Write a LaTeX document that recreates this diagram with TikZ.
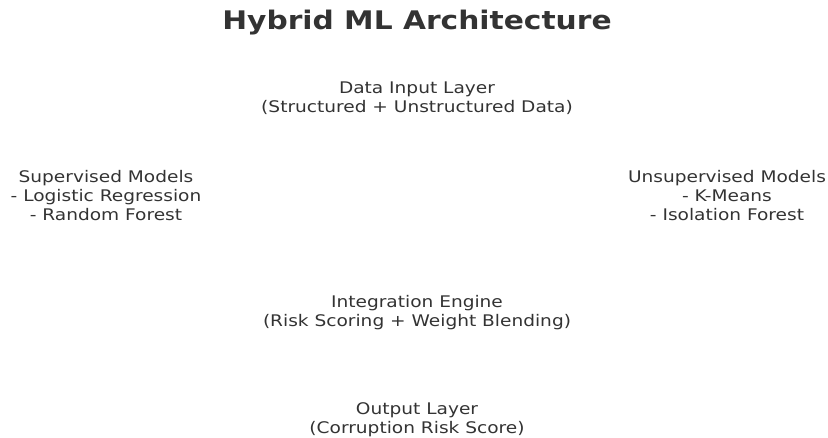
\documentclass[tikz,border=0pt]{standalone}
\usepackage{fontspec}
\setmainfont{DejaVu Sans}
\newfontfamily\widesans[FakeStretch=1.16]{DejaVu Sans}
\definecolor{inkgray}{HTML}{333333}
\begin{document}
\begin{tikzpicture}[x=1pt,y=-1pt,
  every node/.style={text=inkgray, inner sep=0pt, align=center},
  layer/.style={font=\widesans\fontsize{16}{19}\selectfont},
  heading/.style={font=\widesans\fontsize{25.6}{30}\selectfont\bfseries}]
\useasboundingbox (0,0) rectangle (828,438);
\node[heading] (title) at (417,23) {Hybrid ML Architecture};
\node[layer] (input) at (417,98) {Data Input Layer\\(Structured + Unstructured Data)};
\node[layer] (sup) at (106,196) {Supervised Models\\- Logistic Regression\\- Random Forest};
\node[layer] (unsup) at (727,196) {Unsupervised Models\\- K-Means\\- Isolation Forest};
\node[layer] (integ) at (417,313) {Integration Engine\\(Risk Scoring + Weight Blending)};
\node[layer] (out) at (417,420) {Output Layer\\(Corruption Risk Score)};
\end{tikzpicture}
\end{document}
